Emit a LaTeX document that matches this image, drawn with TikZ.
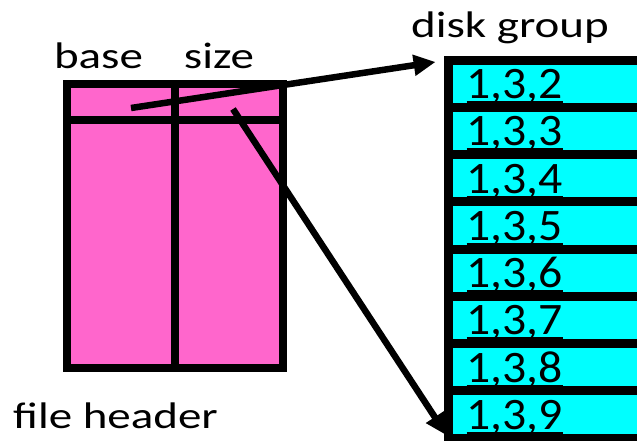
\documentclass[tikz,border=0pt]{standalone}
\usepackage{fontspec}
\setmainfont{Carlito}
\newfontfamily\labelfont[FakeStretch=1.27]{Carlito}
\newfontfamily\blockfont[FakeStretch=1.06]{Carlito}
\usetikzlibrary{arrows.meta}

\definecolor{hdrpink}{HTML}{FF66CC}
\definecolor{blkcyan}{HTML}{00FFFF}

% block number with a thick underline
\newcommand{\blk}[1]{\setbox0\hbox{#1}\rlap{\rule[-4.5pt]{\wd0}{2pt}}\box0}

\begin{document}
\begin{tikzpicture}[x=1pt,y=-1pt,>={Triangle[length=22pt,width=20pt]},node distance=108pt,
    hdr cell/.style={draw,line width=8pt,fill=hdrpink,minimum width=108pt,inner sep=0pt,outer sep=0pt},
    disk cell/.style={draw,line width=9pt,fill=blkcyan,minimum width=196pt,minimum height=47.25pt,
        inner xsep=18pt,inner ysep=0pt,outer sep=0pt,text width=160pt,align=left,
        text height=30pt,text depth=0pt,font=\blockfont\fontsize{45}{48}\selectfont},
    txt/.style={inner sep=0pt,anchor=base,font=\labelfont\fontsize{37}{40}\selectfont}]
    \useasboundingbox (0,0) rectangle (637,440);
    \clip (0,0) rectangle (637,440);

    % file header
    \node[hdr cell,minimum height=35.5pt] (base) at (121,101.75) {};
    \node[hdr cell,minimum height=35.5pt] (size) [right of = base] {};
    \node[hdr cell,minimum height=248.5pt] (basebody) [below of = base, node distance=142pt] {};
    \node[hdr cell,minimum height=248.5pt] (sizebody) [below of = size, node distance=142pt] {};

    % disk group
    \node[disk cell] (d2) at (546.5,83.625) {\blk{1,3,2}};
    \node[disk cell] (d3) [below of = d2, node distance=47.25pt] {\blk{1,3,3}};
    \node[disk cell] (d4) [below of = d3, node distance=47.25pt] {\blk{1,3,4}};
    \node[disk cell] (d5) [below of = d4, node distance=47.25pt] {\blk{1,3,5}};
    \node[disk cell] (d6) [below of = d5, node distance=47.25pt] {\blk{1,3,6}};
    \node[disk cell] (d7) [below of = d6, node distance=47.25pt] {\blk{1,3,7}};
    \node[disk cell] (d8) [below of = d7, node distance=47.25pt] {\blk{1,3,8}};
    \node[disk cell] (d9) [below of = d8, node distance=47.25pt] {\blk{1,3,9}};

    \node[txt] (baselbl) at (98.5,68) {base};
    \node[txt] (sizelbl) at (219,68) {size};
    \node[txt] (grouplbl) at (510,37) {disk group};
    \node[txt] (hdrlbl) at (115.5,428) {file header};

    % pointers
    \coordinate (basept) at (131,108);
    \coordinate (sizept) at (233,109);
    \draw[->,line width=6.5pt,shorten >=13pt] (basept) -- (d2.north west);
    \draw[->,line width=6.5pt,shorten >=3pt] (sizept) -- (d9.south west);
\end{tikzpicture}
\end{document}
